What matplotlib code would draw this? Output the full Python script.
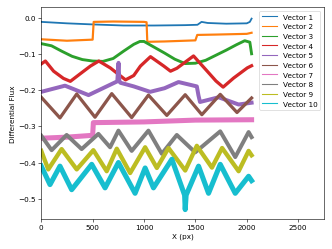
import matplotlib
matplotlib.use("Agg")
from matplotlib import pyplot as plt

# values (X in px, value = differential flux)
x1 = [0, 250, 500, 800, 1100, 1400, 1520, 1560, 1620, 1800, 2000, 2030, 2047]
v1 = [-0.012, -0.016, -0.019, -0.022, -0.022, -0.021, -0.020, -0.012, -0.015, -0.017, -0.016, -0.012, -0.003]

x2 = [0, 250, 500, 510, 700, 1000, 1025, 1032, 1200, 1500, 1518, 1700, 2000, 2047]
v2 = [-0.060, -0.064, -0.061, -0.012, -0.011, -0.012, -0.013, -0.067, -0.066, -0.063, -0.048, -0.047, -0.045, -0.042]

x3 = [0, 100, 200, 300, 400, 500, 600, 700, 800, 900, 960, 1000, 1050, 1200, 1300, 1400, 1500, 1600, 1700, 1800, 1900, 1980, 2030, 2047]
v3 = [-0.072, -0.078, -0.093, -0.107, -0.116, -0.120, -0.121, -0.113, -0.093, -0.074, -0.066, -0.066, -0.074, -0.098, -0.115, -0.127, -0.126, -0.118, -0.104, -0.090, -0.075, -0.064, -0.068, -0.100]

x4 = [0, 40, 120, 216, 283, 380, 478, 560, 672, 820, 900, 965, 1063, 1193, 1258, 1320, 1482, 1615, 1700, 1770, 1872, 2005, 2047]
v4 = [-0.128, -0.120, -0.148, -0.168, -0.176, -0.155, -0.134, -0.120, -0.139, -0.172, -0.160, -0.134, -0.108, -0.134, -0.148, -0.140, -0.106, -0.148, -0.175, -0.192, -0.167, -0.139, -0.133]

x5 = [0, 231, 460, 600, 740, 752, 760, 770, 900, 1060, 1200, 1336, 1514, 1530, 1545, 1726, 1921, 2047]
v5 = [-0.205, -0.188, -0.214, -0.195, -0.176, -0.125, -0.176, -0.180, -0.190, -0.205, -0.195, -0.178, -0.190, -0.215, -0.233, -0.220, -0.240, -0.235]

x6 = [0, 182, 345, 523, 686, 880, 1043, 1222, 1401, 1563, 1742, 1905, 2047]
v6 = [-0.220, -0.277, -0.211, -0.275, -0.210, -0.276, -0.214, -0.270, -0.213, -0.268, -0.212, -0.262, -0.222]

x7 = [0, 250, 500, 507, 1000, 1500, 2047]
v7 = [-0.333, -0.330, -0.325, -0.290, -0.288, -0.283, -0.282]

x8 = [0, 101, 247, 393, 556, 670, 751, 880, 1043, 1173, 1319, 1498, 1742, 1888, 2018, 2047]
v8 = [-0.326, -0.366, -0.324, -0.363, -0.321, -0.358, -0.312, -0.368, -0.312, -0.376, -0.324, -0.372, -0.314, -0.385, -0.316, -0.330]

x9 = [0, 68, 198, 345, 507, 637, 735, 865, 1011, 1125, 1238, 1401, 1514, 1661, 1760, 1921, 2018, 2047]
v9 = [-0.368, -0.419, -0.363, -0.419, -0.366, -0.424, -0.362, -0.429, -0.358, -0.415, -0.360, -0.422, -0.354, -0.414, -0.360, -0.424, -0.368, -0.380]

x10 = [0, 85, 182, 296, 491, 621, 751, 913, 1011, 1092, 1271, 1395, 1401, 1410, 1531, 1628, 1742, 1888, 2018, 2047]
v10 = [-0.410, -0.461, -0.410, -0.475, -0.405, -0.470, -0.400, -0.485, -0.415, -0.470, -0.391, -0.490, -0.530, -0.490, -0.410, -0.485, -0.405, -0.485, -0.438, -0.450]

series = [(x1, v1), (x2, v2), (x3, v3), (x4, v4), (x5, v5),
          (x6, v6), (x7, v7), (x8, v8), (x9, v9), (x10, v10)]
labels = ['Vector %d' % (i + 1) for i in range(10)]

# band thickness standing in for the noise of each trace
widths = [2.5, 3.0, 4.0, 4.5, 5.5, 4.5, 7.0, 5.5, 6.0, 7.0]


def main():
    fig = plt.figure(figsize=(6.4, 4.8), dpi=52)
    ax = fig.add_subplot(111)
    for (xs, vs), lab, lw in zip(series, labels, widths):
        ax.plot(xs, vs, lw=lw, label=lab, solid_joinstyle='round')

    ax.set_xlim(0, 2750)
    ax.set_ylim(-0.556, 0.028)
    ax.set_xlabel('X (px)')
    ax.set_ylabel('Differential Flux')
    leg = ax.legend(loc='upper right')
    for line in leg.get_lines():
        line.set_linewidth(1.5)

    fig.subplots_adjust(left=0.124, right=0.973, top=0.968, bottom=0.12)
    fig.savefig('out.png', dpi=52)


if __name__ == '__main__':
    main()
